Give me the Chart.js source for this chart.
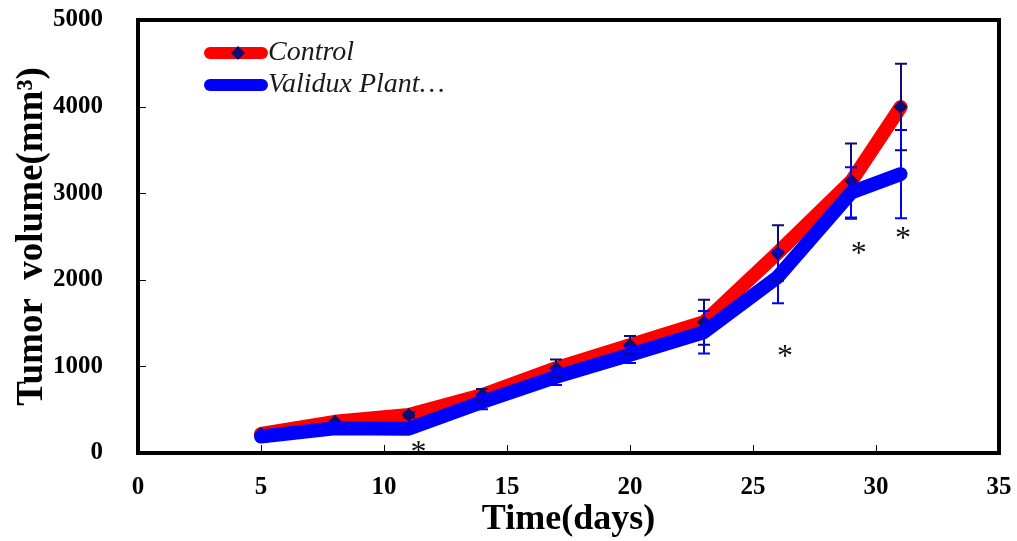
<!DOCTYPE html>
<html>
<head>
<meta charset="utf-8">
<script src="https://cdn.jsdelivr.net/npm/chart.js@4.4.1/dist/chart.umd.min.js"></script>
<style>
  html, body { margin: 0; padding: 0; background: #fff; }
  #wrap { width: 1017px; height: 541px; }
</style>
</head>
<body>
<div id="wrap"><canvas id="tumorChart" width="1017" height="541"></canvas></div>
<script>
'use strict';
// values
var days = [5, 8, 11, 14, 17, 20, 23, 26, 29, 31];
var seriesNames = ['Control', 'Validux Plant\u2026'];
var controlVolume = [220, 360, 440, 670, 980, 1245, 1510, 2310, 3140, 3995];
var controlErr = [0, 0, 30, 70, 100, 105, 260, 320, 435, 500];
var validuxVolume = [190, 285, 280, 590, 880, 1135, 1395, 2030, 3010, 3220];
var validuxErr = [0, 0, 20, 85, 95, 95, 245, 300, 290, 510];
var xTicks = [0, 5, 10, 15, 20, 25, 30, 35];
var yTicks = [0, 1000, 2000, 3000, 4000, 5000];
var starDays = [11.4, 26.3, 29.3, 31.1];
var starVolume = [70, 1180, 2370, 2540];

var SERIF = "'Liberation Serif', 'Times New Roman', serif";
var NAVY = '#0c0c74';

function toPoints(xs, ys) {
  return xs.map(function(x, i) { return { x: x, y: ys[i] }; });
}

// frame, inner tick marks, error bars and significance stars
var overlayPlugin = {
  id: 'overlay',
  afterDatasetsDraw: function(chart) {
    var ctx = chart.ctx, a = chart.chartArea;
    var xs = chart.scales.x, ys = chart.scales.y;
    ctx.save();

    function errBars(vals, errs, color) {
      ctx.strokeStyle = color;
      ctx.lineWidth = 2;
      ctx.beginPath();
      days.forEach(function(d, i) {
        if (!errs[i]) return;
        var px = Math.round(xs.getPixelForValue(d));
        var top = ys.getPixelForValue(vals[i] + errs[i]);
        var bot = ys.getPixelForValue(vals[i] - errs[i]);
        ctx.moveTo(px, top); ctx.lineTo(px, bot);
        ctx.moveTo(px - 6, top); ctx.lineTo(px + 6, top);
        ctx.moveTo(px - 6, bot); ctx.lineTo(px + 6, bot);
      });
      ctx.stroke();
    }
    errBars(controlVolume, controlErr, NAVY);
    errBars(validuxVolume, validuxErr, '#0000ff');

    // stars
    ctx.fillStyle = '#111';
    ctx.font = '32px ' + SERIF;
    ctx.textAlign = 'center';
    ctx.textBaseline = 'alphabetic';
    starDays.forEach(function(d, i) {
      ctx.fillText('*', xs.getPixelForValue(d), ys.getPixelForValue(starVolume[i]) + 15);
    });

    // ticks pointing inward
    ctx.strokeStyle = '#000';
    ctx.lineWidth = 1;
    ctx.beginPath();
    xTicks.forEach(function(v) {
      var px = Math.round(xs.getPixelForValue(v)) + 0.5;
      ctx.moveTo(px, a.bottom); ctx.lineTo(px, a.bottom - 8);
    });
    yTicks.forEach(function(v) {
      var py = Math.round(ys.getPixelForValue(v)) + 0.5;
      ctx.moveTo(a.left, py); ctx.lineTo(a.left + 8, py);
    });
    ctx.stroke();

    // box
    ctx.lineWidth = 4;
    ctx.strokeRect(a.left, a.top, a.right - a.left, a.bottom - a.top);
    ctx.restore();
  },
  afterDraw: function(chart) {
    // legend sits inside the plot, top left
    var ctx = chart.ctx;
    var sets = chart.data.datasets;
    ctx.save();
    sets.forEach(function(ds, i) {
      var y = 53 + i * 32;
      ctx.strokeStyle = ds.borderColor;
      ctx.lineWidth = 12;
      ctx.lineCap = 'round';
      ctx.beginPath();
      ctx.moveTo(210, y); ctx.lineTo(262, y);
      ctx.stroke();
      if (ds.pointRadius) {
        ctx.fillStyle = ds.pointBackgroundColor;
        ctx.beginPath();
        ctx.moveTo(238, y - 7); ctx.lineTo(245, y); ctx.lineTo(238, y + 7); ctx.lineTo(231, y);
        ctx.closePath();
        ctx.fill();
      }
      ctx.fillStyle = '#1a1a1a';
      ctx.font = 'italic 28px ' + SERIF;
      ctx.textAlign = 'left';
      ctx.textBaseline = 'middle';
      ctx.fillText(ds.label, 268, y);
    });
    ctx.restore();
  }
};

function plainTick(v) { return String(v); }

var ctx = document.getElementById('tumorChart');
new Chart(ctx, {
  type: 'line',
  data: {
    datasets: [{
      label: seriesNames[0],
      data: toPoints(days, controlVolume),
      borderColor: '#ff0000',
      borderWidth: 14,
      borderCapStyle: 'round',
      borderJoinStyle: 'round',
      pointStyle: 'rectRot',
      pointRadius: 7,
      pointBorderWidth: 0,
      pointBackgroundColor: NAVY,
      tension: 0,
      order: 2
    }, {
      label: seriesNames[1],
      data: toPoints(days, validuxVolume),
      borderColor: '#0000ff',
      borderWidth: 14,
      borderCapStyle: 'round',
      borderJoinStyle: 'round',
      pointRadius: 0,
      tension: 0,
      order: 1
    }]
  },
  options: {
    responsive: false,
    animation: false,
    devicePixelRatio: 1,
    layout: { padding: { top: 20, right: 18, left: 0, bottom: 0 } },
    plugins: { legend: { display: false }, tooltip: { enabled: false } },
    scales: {
      x: {
        type: 'linear', min: 0, max: 35,
        afterBuildTicks: function(scale) { scale.ticks = xTicks.map(function(v) { return { value: v }; }); },
        afterFit: function(scale) {
          scale.height = 88;
          scale.paddingLeft = 0; scale.paddingRight = 0;
        },
        grid: { display: false, drawTicks: false },
        border: { display: false },
        ticks: { color: '#000', padding: 20, maxRotation: 0, callback: plainTick,
                 font: { family: SERIF, size: 25, weight: 'bold' } },
        title: { display: true, text: 'Time(days)', color: '#000', padding: { top: 0, bottom: 0 },
                 font: { family: SERIF, size: 36, weight: 'bold' } }
      },
      y: {
        min: 0, max: 5000,
        afterBuildTicks: function(scale) { scale.ticks = yTicks.map(function(v) { return { value: v }; }); },
        afterFit: function(scale) {
          scale.width = 138;
          scale.paddingTop = 0; scale.paddingBottom = 0;
        },
        grid: { display: false, drawTicks: false },
        border: { display: false },
        ticks: { color: '#000', padding: 35, callback: plainTick,
                 font: { family: SERIF, size: 25, weight: 'bold' } },
        title: { display: true, text: 'Tumor  volume(mm\u00b3)', color: '#000', padding: { top: 10, bottom: 0 },
                 font: { family: SERIF, size: 37, weight: 'bold' } }
      }
    }
  },
  plugins: [overlayPlugin]
});
</script>
</body>
</html>
